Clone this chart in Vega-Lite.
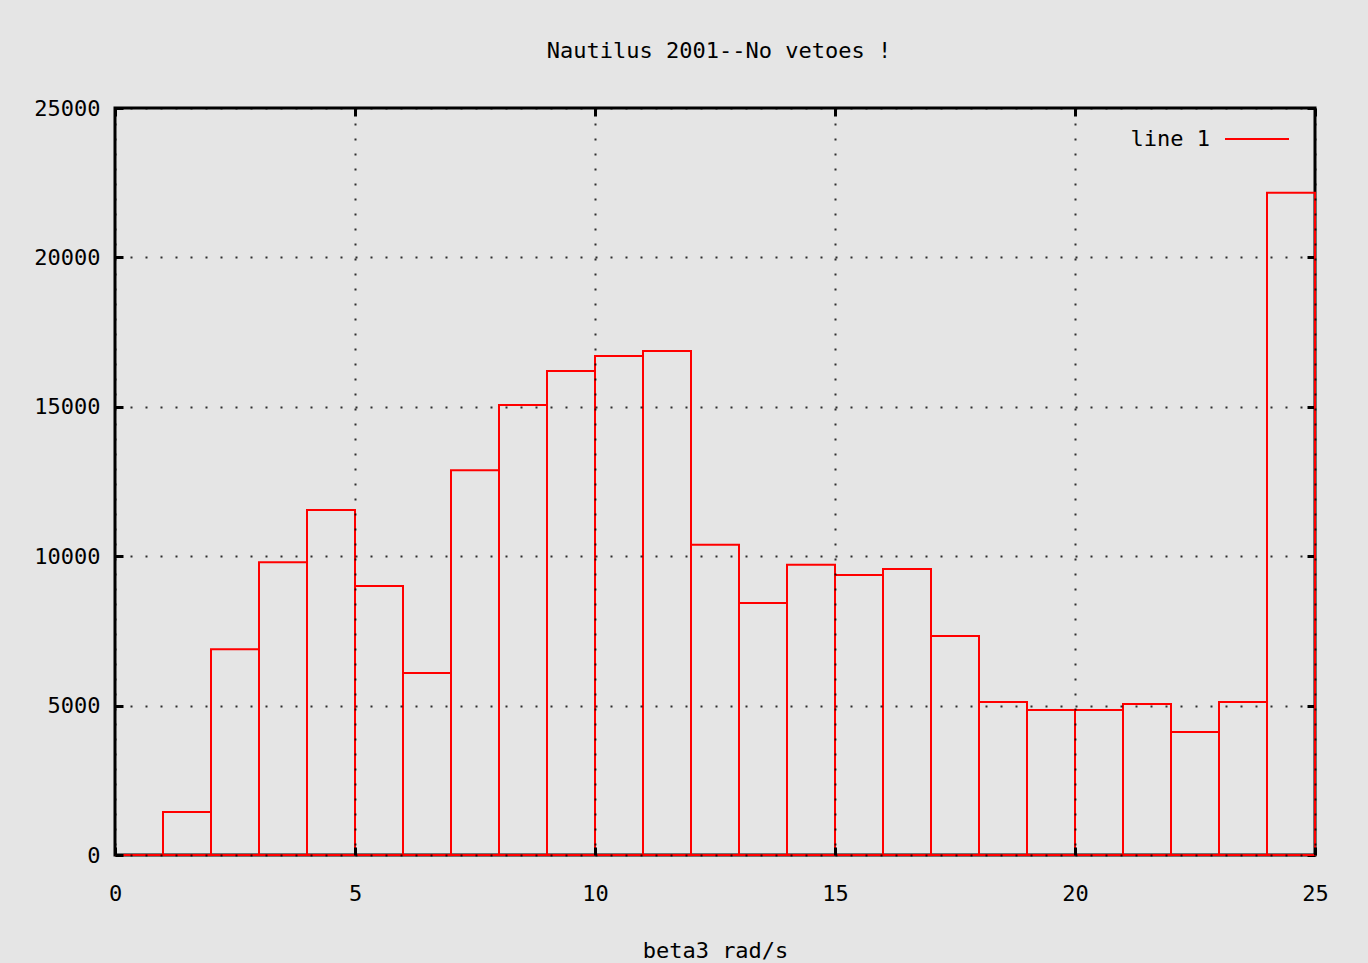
{
  "$schema": "https://vega.github.io/schema/vega-lite/v6.json",
  "autosize": "none",
  "width": 1200,
  "height": 747,
  "padding": {"left": 115, "top": 108, "right": 53, "bottom": 108},
  "background": "#e5e5e5",
  "title": {"text": "Nautilus 2001--No vetoes !", "font": "DejaVu Sans Mono", "fontSize": 22, "fontWeight": "normal", "color": "#000000", "offset": 34, "anchor": "middle", "dx": 4},
  "config": {
    "view": {"stroke": "#000000", "strokeWidth": 3, "fill": null},
    "axis": {"labelFont": "DejaVu Sans Mono", "labelFontSize": 22, "labelColor": "#000000", "titleFont": "DejaVu Sans Mono", "titleFontSize": 22, "titleFontWeight": "normal", "titleColor": "#000000", "domain": false, "tickColor": "#000000", "tickWidth": 3, "tickSize": -8, "labelFlush": false}
  },
  "data": {"values": [
    {"bin_start": 0, "bin_end": 1, "count": 0, "series": "line 1"},
    {"bin_start": 1, "bin_end": 2, "count": 1440, "series": "line 1"},
    {"bin_start": 2, "bin_end": 3, "count": 6890, "series": "line 1"},
    {"bin_start": 3, "bin_end": 4, "count": 9800, "series": "line 1"},
    {"bin_start": 4, "bin_end": 5, "count": 11550, "series": "line 1"},
    {"bin_start": 5, "bin_end": 6, "count": 9000, "series": "line 1"},
    {"bin_start": 6, "bin_end": 7, "count": 6090, "series": "line 1"},
    {"bin_start": 7, "bin_end": 8, "count": 12880, "series": "line 1"},
    {"bin_start": 8, "bin_end": 9, "count": 15060, "series": "line 1"},
    {"bin_start": 9, "bin_end": 10, "count": 16200, "series": "line 1"},
    {"bin_start": 10, "bin_end": 11, "count": 16700, "series": "line 1"},
    {"bin_start": 11, "bin_end": 12, "count": 16870, "series": "line 1"},
    {"bin_start": 12, "bin_end": 13, "count": 10380, "series": "line 1"},
    {"bin_start": 13, "bin_end": 14, "count": 8430, "series": "line 1"},
    {"bin_start": 14, "bin_end": 15, "count": 9710, "series": "line 1"},
    {"bin_start": 15, "bin_end": 16, "count": 9370, "series": "line 1"},
    {"bin_start": 16, "bin_end": 17, "count": 9570, "series": "line 1"},
    {"bin_start": 17, "bin_end": 18, "count": 7330, "series": "line 1"},
    {"bin_start": 18, "bin_end": 19, "count": 5120, "series": "line 1"},
    {"bin_start": 19, "bin_end": 20, "count": 4850, "series": "line 1"},
    {"bin_start": 20, "bin_end": 21, "count": 4850, "series": "line 1"},
    {"bin_start": 21, "bin_end": 22, "count": 5050, "series": "line 1"},
    {"bin_start": 22, "bin_end": 23, "count": 4120, "series": "line 1"},
    {"bin_start": 23, "bin_end": 24, "count": 5120, "series": "line 1"},
    {"bin_start": 24, "bin_end": 25, "count": 22160, "series": "line 1"}
  ]},
  "resolve": {"axis": {"x": "independent", "y": "independent"}},
  "layer": [
    {
      "mark": {"type": "rect", "filled": false, "strokeWidth": 2},
      "encoding": {
        "x": {"field": "bin_start", "type": "quantitative", "scale": {"domain": [0, 25], "nice": false, "zero": false},
              "axis": {"orient": "bottom", "title": "beta3 rad/s", "values": [0, 5, 10, 15, 20, 25], "labelPadding": 36, "labelDx": 5, "titlePadding": 36, "grid": true, "gridColor": "#000000", "gridDash": [2, 13], "gridWidth": 2, "gridOpacity": 0.8, "zindex": 1}},
        "x2": {"field": "bin_end"},
        "y": {"field": "count", "type": "quantitative", "scale": {"domain": [0, 25000], "nice": false},
              "axis": {"orient": "left", "title": null, "format": "d", "values": [0, 5000, 10000, 15000, 20000, 25000], "labelPadding": 23, "grid": true, "gridColor": "#000000", "gridDash": [2, 13], "gridWidth": 2, "gridOpacity": 0.8, "zindex": 1}},
        "y2": {"datum": 0},
        "stroke": {"field": "series", "type": "nominal", "scale": {"domain": ["line 1"], "range": ["#ff0000"]},
                   "legend": {"title": null, "orient": "none", "legendX": 1109, "legendY": -2, "symbolType": "stroke", "symbolSize": 4096, "symbolStrokeWidth": 2, "labelAlign": "right", "labelOffset": -80, "labelFont": "DejaVu Sans Mono", "labelFontSize": 22, "labelColor": "#000000", "padding": 0}}
      }
    },
    {
      "mark": {"type": "rect", "filled": false, "strokeOpacity": 0},
      "encoding": {
        "x": {"field": "bin_start", "type": "quantitative",
              "axis": {"orient": "top", "title": null, "labels": false, "values": [0, 5, 10, 15, 20, 25], "grid": false}},
        "x2": {"field": "bin_end"},
        "y": {"field": "count", "type": "quantitative",
              "axis": {"orient": "right", "title": null, "labels": false, "values": [0, 5000, 10000, 15000, 20000, 25000], "grid": false}},
        "y2": {"datum": 0}
      }
    }
  ]
}
